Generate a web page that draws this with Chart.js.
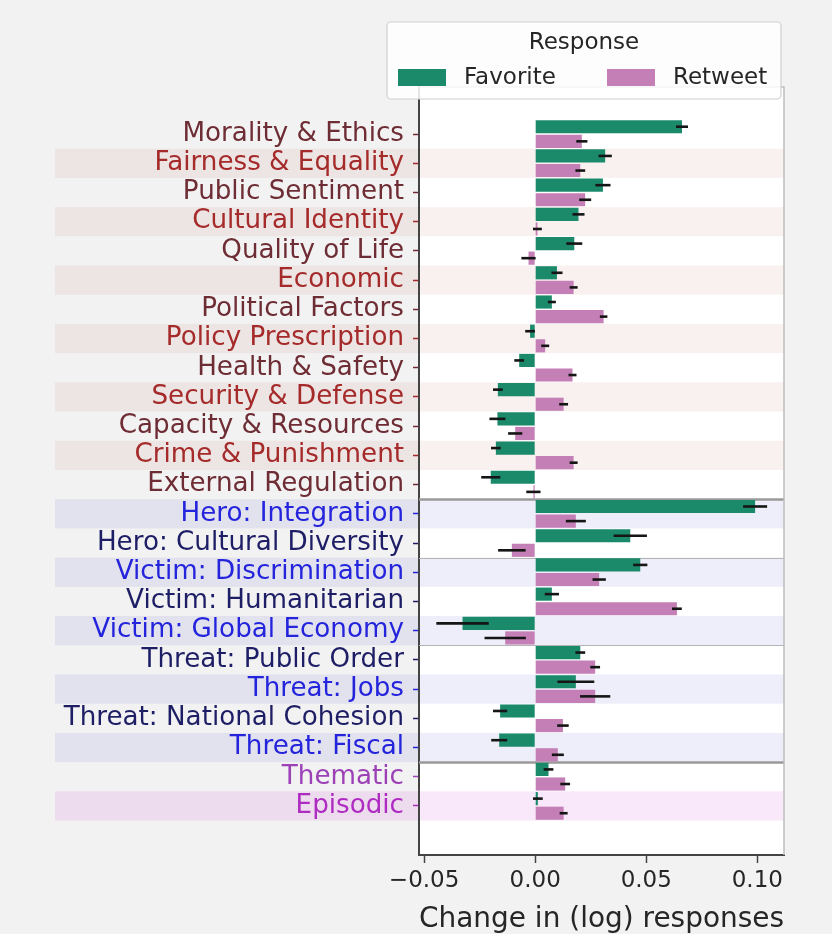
<!DOCTYPE html>
<html>
<head>
<meta charset="utf-8">
<script src="https://cdn.jsdelivr.net/npm/chart.js@4.4.1/dist/chart.umd.min.js"></script>
<style>
  html, body { margin: 0; padding: 0; background: #f2f2f2; }
  canvas { display: block; }
</style>
</head>
<body>
<canvas id="frames" width="832" height="934"></canvas>
<script>
const frames = [
    "Morality & Ethics", "Fairness & Equality", "Public Sentiment", "Cultural Identity",
    "Quality of Life", "Economic", "Political Factors", "Policy Prescription",
    "Health & Safety", "Security & Defense", "Capacity & Resources", "Crime & Punishment",
    "External Regulation", "Hero: Integration", "Hero: Cultural Diversity",
    "Victim: Discrimination", "Victim: Humanitarian", "Victim: Global Economy",
    "Threat: Public Order", "Threat: Jobs", "Threat: National Cohesion", "Threat: Fiscal",
    "Thematic", "Episodic",
];

const favorite = [
    0.0661, 0.0315, 0.0305, 0.0195, 0.0176, 0.0098, 0.0075, -0.0023,
    -0.0072, -0.0168, -0.0170, -0.0177, -0.0200, 0.0990, 0.0428,
    0.0473, 0.0075, -0.0327, 0.0203, 0.0183, -0.0158, -0.0162,
    0.0060, 0.0012,
];
const favoriteErr = [
    0.0027, 0.0030, 0.0034, 0.0027, 0.0036, 0.0025, 0.0018, 0.0022,
    0.0022, 0.0022, 0.0036, 0.0022, 0.0043, 0.0054, 0.0075,
    0.0032, 0.0032, 0.0118, 0.0022, 0.0083, 0.0032, 0.0036,
    0.0022, 0.0022,
];
const retweet = [
    0.0210, 0.0203, 0.0225, 0.0010, -0.0030, 0.0173, 0.0308, 0.0045,
    0.0168, 0.0128, -0.0090, 0.0173, -0.0008, 0.0183, -0.0105,
    0.0288, 0.0638, -0.0135, 0.0270, 0.0270, 0.0125, 0.0102,
    0.0135, 0.0128,
];
const retweetErr = [
    0.0025, 0.0022, 0.0027, 0.0020, 0.0032, 0.0018, 0.0017, 0.0018,
    0.0018, 0.0020, 0.0032, 0.0018, 0.0032, 0.0045, 0.0062,
    0.0030, 0.0022, 0.0093, 0.0022, 0.0068, 0.0026, 0.0027,
    0.0022, 0.0018,
];

// shading behind each row and the colour of its label
const rowBands = [
    "", "red", "", "red", "", "red", "", "red", "", "red", "", "red", "",
    "blue", "", "blue", "", "blue", "", "blue", "", "blue",
    "", "pink",
];
const labelColors = [
    "#6e2d35", "#a52a2a", "#6e2d35", "#a52a2a", "#6e2d35", "#a52a2a", "#6e2d35",
    "#a52a2a", "#6e2d35", "#a52a2a", "#6e2d35", "#a52a2a", "#6e2d35",
    "#2424dc", "#1e1e66", "#2424dc", "#1e1e66", "#2424dc", "#1e1e66",
    "#2424dc", "#1e1e66", "#2424dc",
    "#9c42b6", "#ae2cc2",
];
// first row of each new frame group; strong lines split the families
const groupStarts = [13, 15, 18, 22];
const strongStarts = [13, 22];

const xTicks = [-0.05, 0.00, 0.05, 0.10];

const seriesNames = ["Favorite", "Retweet"];
const seriesColors = ["#1b8a6b", "#c57fb7"];

const bandFill = {
    red: "rgba(180, 60, 60, 0.075)",
    blue: "rgba(60, 60, 200, 0.085)",
    pink: "rgba(210, 90, 210, 0.14)",
};

const backdrop = {
    id: "backdrop",
    beforeDraw(chart) {
        const { ctx, chartArea: a, scales: { y } } = chart;
        ctx.save();
        ctx.fillStyle = "#f2f2f2";
        ctx.fillRect(0, 0, chart.width, chart.height);
        ctx.fillStyle = "#ffffff";
        ctx.fillRect(a.left, a.top, a.right - a.left, a.bottom - a.top);
        rowBands.forEach((band, i) => {
            if (!band) return;
            const y0 = y.getPixelForValue(i - 0.5);
            const y1 = y.getPixelForValue(i + 0.5);
            ctx.fillStyle = bandFill[band];
            ctx.fillRect(55, y0, a.right - 55, y1 - y0);
        });
        ctx.restore();
    },
    beforeDatasetsDraw(chart) {
        const { ctx, chartArea: a, scales: { y } } = chart;
        ctx.save();
        groupStarts.forEach(i => {
            const strong = strongStarts.includes(i);
            const py = Math.round(y.getPixelForValue(i - 0.5)) + 0.5;
            ctx.strokeStyle = strong ? "#9a9a9a" : "#b4b4b4";
            ctx.lineWidth = strong ? 2.5 : 1.2;
            ctx.beginPath();
            ctx.moveTo(a.left, py);
            ctx.lineTo(a.right, py);
            ctx.stroke();
        });
        // light top and right spines
        ctx.strokeStyle = "#bdbdbd";
        ctx.lineWidth = 1.5;
        ctx.beginPath();
        ctx.moveTo(a.left, a.top);
        ctx.lineTo(a.right, a.top);
        ctx.lineTo(a.right, a.bottom);
        ctx.stroke();
        ctx.restore();
    },
};

const errorBars = {
    id: "errorBars",
    afterDatasetsDraw(chart) {
        const { ctx, scales: { x } } = chart;
        const errs = [favoriteErr, retweetErr];
        ctx.save();
        ctx.strokeStyle = "#151515";
        ctx.lineWidth = 2.6;
        chart.data.datasets.forEach((ds, d) => {
            chart.getDatasetMeta(d).data.forEach((bar, i) => {
                const v = ds.data[i].x;
                ctx.beginPath();
                ctx.moveTo(x.getPixelForValue(v - errs[d][i]), bar.y);
                ctx.lineTo(x.getPixelForValue(v + errs[d][i]), bar.y);
                ctx.stroke();
            });
        });
        ctx.restore();
    },
};

const responseLegend = {
    id: "responseLegend",
    afterDraw(chart) {
        const { ctx } = chart;
        const left = 387, top = 22, w = 394, h = 77;
        ctx.save();
        ctx.fillStyle = "rgba(255, 255, 255, 0.85)";
        ctx.strokeStyle = "#d0d0d0";
        ctx.lineWidth = 1.2;
        ctx.beginPath();
        ctx.roundRect(left, top, w, h, 4);
        ctx.fill();
        ctx.stroke();
        ctx.font = "23px 'DejaVu Sans'";
        ctx.fillStyle = "#262626";
        ctx.textBaseline = "middle";
        ctx.textAlign = "center";
        ctx.fillText("Response", left + w / 2, top + 21);
        ctx.textAlign = "left";
        chart.data.datasets.forEach((ds, d) => {
            const bx = left + 11 + d * 209;
            ctx.fillStyle = ds.backgroundColor;
            ctx.fillRect(bx, top + 47, 48, 17);
            ctx.fillStyle = "#262626";
            ctx.fillText(ds.label, bx + 66, top + 56);
        });
        ctx.restore();
    },
};

new Chart(document.getElementById("frames").getContext("2d"), {
    type: "bar",
    data: {
        datasets: [
            {
                label: seriesNames[0],
                data: favorite.map((v, i) => ({ x: v, y: i })),
                backgroundColor: seriesColors[0],
            },
            {
                label: seriesNames[1],
                data: retweet.map((v, i) => ({ x: v, y: i })),
                backgroundColor: seriesColors[1],
            },
        ],
    },
    options: {
        indexAxis: "y",
        responsive: false,
        animation: false,
        devicePixelRatio: 1,
        categoryPercentage: 1.0,
        barPercentage: 0.9,
        layout: { padding: { top: 87, right: 48, left: 0, bottom: 0 } },
        font: { family: "'DejaVu Sans'" },
        plugins: { legend: { display: false }, tooltip: { enabled: false } },
        scales: {
            x: {
                type: "linear",
                min: -0.0523,
                max: 0.112,
                afterBuildTicks: scale => { scale.ticks = xTicks.map(value => ({ value })); },
                afterFit: scale => { scale.height = 79; },
                ticks: {
                    color: "#262626",
                    padding: 4,
                    font: { family: "'DejaVu Sans'", size: 23 },
                    callback: v => (v < 0 ? "\u2212" : "") + Math.abs(v).toFixed(2),
                },
                grid: { drawOnChartArea: false, tickLength: 8, tickColor: "#444", tickWidth: 1.5 },
                border: { color: "#444", width: 2 },
                title: {
                    display: true,
                    text: "Change in (log) responses",
                    color: "#262626",
                    padding: { top: 0, bottom: -3 },
                    font: { family: "'DejaVu Sans'", size: 28.4 },
                },
            },
            y: {
                type: "linear",
                reverse: true,
                offset: false,
                min: -1.61,
                max: 24.68,
                afterBuildTicks: scale => { scale.ticks = frames.map((_, i) => ({ value: i })); },
                afterFit: scale => { scale.width = 419; },
                ticks: {
                    autoSkip: false,
                    padding: 9,
                    color: ctx => labelColors[ctx.index],
                    font: { family: "'DejaVu Sans'", size: 26.2 },
                    callback: v => frames[v],
                },
                grid: {
                    drawOnChartArea: false,
                    offset: false,
                    tickLength: 6,
                    tickWidth: 1.5,
                    tickColor: ctx => labelColors[ctx.index],
                },
                border: { color: "#444", width: 2 },
            },
        },
    },
    plugins: [backdrop, errorBars, responseLegend],
});
</script>
</body>
</html>
